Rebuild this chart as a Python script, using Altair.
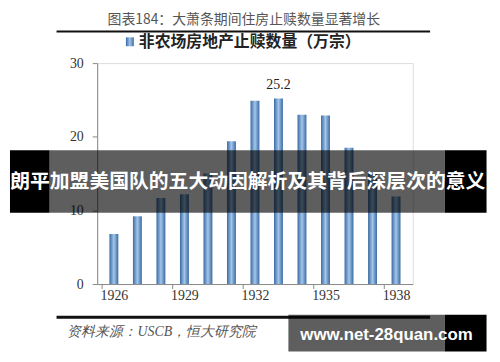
import altair as alt
import pandas as pd

years = [1926, 1927, 1928, 1929, 1930, 1931, 1932, 1933, 1934, 1935, 1936, 1937, 1938]
values = [6.8, 9.2, 11.7, 12.2, 15.0, 19.4, 24.9, 25.2, 23.0, 22.9, 18.5, 15.2, 11.9]
label_years = [1933]
x_tick_labels = [1926, 1929, 1932, 1935, 1938]
x_tick_marks = [1925.5, 1928.5, 1931.5, 1934.5, 1937.5]
y_ticks = [0, 5, 10, 15, 20, 25, 30]

title_text = "图表184：大萧条期间住房止赎数量显著增长"
legend_text = "非农场房地产止赎数量（万宗）"
source_text = "资料来源：USCB，恒大研究院"
banner_text = "朗平加盟美国队的五大动因解析及其背后深层次的意义"
watermark_text = "www.net-28quan.com"

W, H = 318.5, 223

df = pd.DataFrame({"year": years, "value": values})
df_lab = df[df["year"].isin(label_years)]
df_ticks = pd.DataFrame({"pos": x_tick_marks})

grad = alt.Gradient(
    gradient="linear",
    stops=[
        alt.GradientStop(color="#3a6aa3", offset=0),
        alt.GradientStop(color="#a3c6ea", offset=0.5),
        alt.GradientStop(color="#3a6aa3", offset=1),
    ],
    x1=0, x2=1, y1=0, y2=0,
)

xscale = alt.Scale(domain=[1925.5, 1938.5], nice=False, zero=False)
yscale = alt.Scale(domain=[0, 30], nice=False)

bars = alt.Chart(df).mark_bar(width=9, color=grad).encode(
    x=alt.X("year:Q", scale=xscale,
            axis=alt.Axis(values=x_tick_labels, format="d", ticks=False, grid=False,
                          title=None, domainColor="#8a8a8a", labelFont="Liberation Serif",
                          labelFontSize=14, labelColor="#333333", labelPadding=5,
                          labelFlush=False)),
    y=alt.Y("value:Q", scale=yscale,
            axis=alt.Axis(values=y_ticks, grid=False, title=None, tickSize=5,
                          tickColor="#8a8a8a", domainColor="#8a8a8a",
                          labelFont="Liberation Serif", labelFontSize=14,
                          labelColor="#333333", labelPadding=9)),
)

xticks = alt.Chart(df_ticks).mark_rule(color="#8a8a8a").encode(
    x=alt.X("pos:Q", scale=xscale),
    y=alt.value(H), y2=alt.value(H + 5),
)

lab = alt.Chart(df_lab).mark_text(font="Liberation Serif", fontSize=14, color="#222222",
                                  dy=-14).encode(
    x=alt.X("year:Q", scale=xscale),
    y=alt.Y("value:Q", scale=yscale),
    text=alt.Text("value:Q", format=".1f"),
)

one = pd.DataFrame({"k": [0]})

def txt(s, x, y, baseline="middle", **kw):
    return alt.Chart(pd.DataFrame({"t": [s]})).mark_text(baseline=baseline, **kw).encode(
        x=alt.value(x), y=alt.value(y), text="t:N")

def box(x1, x2, y1, y2, **kw):
    return alt.Chart(one).mark_rect(**kw).encode(
        x=alt.value(x1), x2=alt.value(x2), y=alt.value(y1), y2=alt.value(y2))

title = txt(title_text, 148, -43, font="Noto Sans CJK SC", fontSize=14,
            color="#555555", align="center")
top_line = box(-41, 336, -33, -31, color="#111111")
leg_sq = box(29, 37, -26, -17, color=grad)
leg_txt = txt(legend_text, 42, -21, font="Noto Sans CJK SC", fontSize=16, fontWeight="bold",
              color="#222222", align="left")
bot_line = box(-41, 336, 255, 258, color="#111111")
src = txt(source_text, -30, 271, font="Liberation Serif", fontSize=14, fontStyle="italic",
          color="#555555", align="left")

ban_l = box(-88, -48, 88, 151, color="#000000")
ban_m = box(-48, 351, 88, 151, color="#000000", opacity=0.63)
ban_r = box(351, 393, 88, 151, color="#000000")
ban_t = txt(banner_text, 152, 120, font="Noto Sans CJK SC", fontSize=20, fontWeight="bold",
            color="#ffffff", align="center")

wm_m = box(193, 351, 254, 291, color="#000000", opacity=0.63)
wm_r = box(351, 393, 254, 291, color="#000000")
wm_t = txt(watermark_text, 292, 274, font="Liberation Sans", fontSize=17, fontWeight="bold",
           color="#ffffff", align="center")

chart = alt.layer(
    bars, xticks, lab, title, top_line, leg_sq, leg_txt, bot_line, src,
    ban_l, ban_m, ban_r, ban_t, wm_m, wm_r, wm_t,
).properties(
    width=W, height=H,
    autosize=alt.AutoSizeParams(type="none"),
    padding={"left": 90, "top": 54, "right": 80, "bottom": 70},
).configure_view(stroke=None).configure(background="#ffffff")

chart.save("out.html", embed_options={"renderer": "svg", "actions": False})
